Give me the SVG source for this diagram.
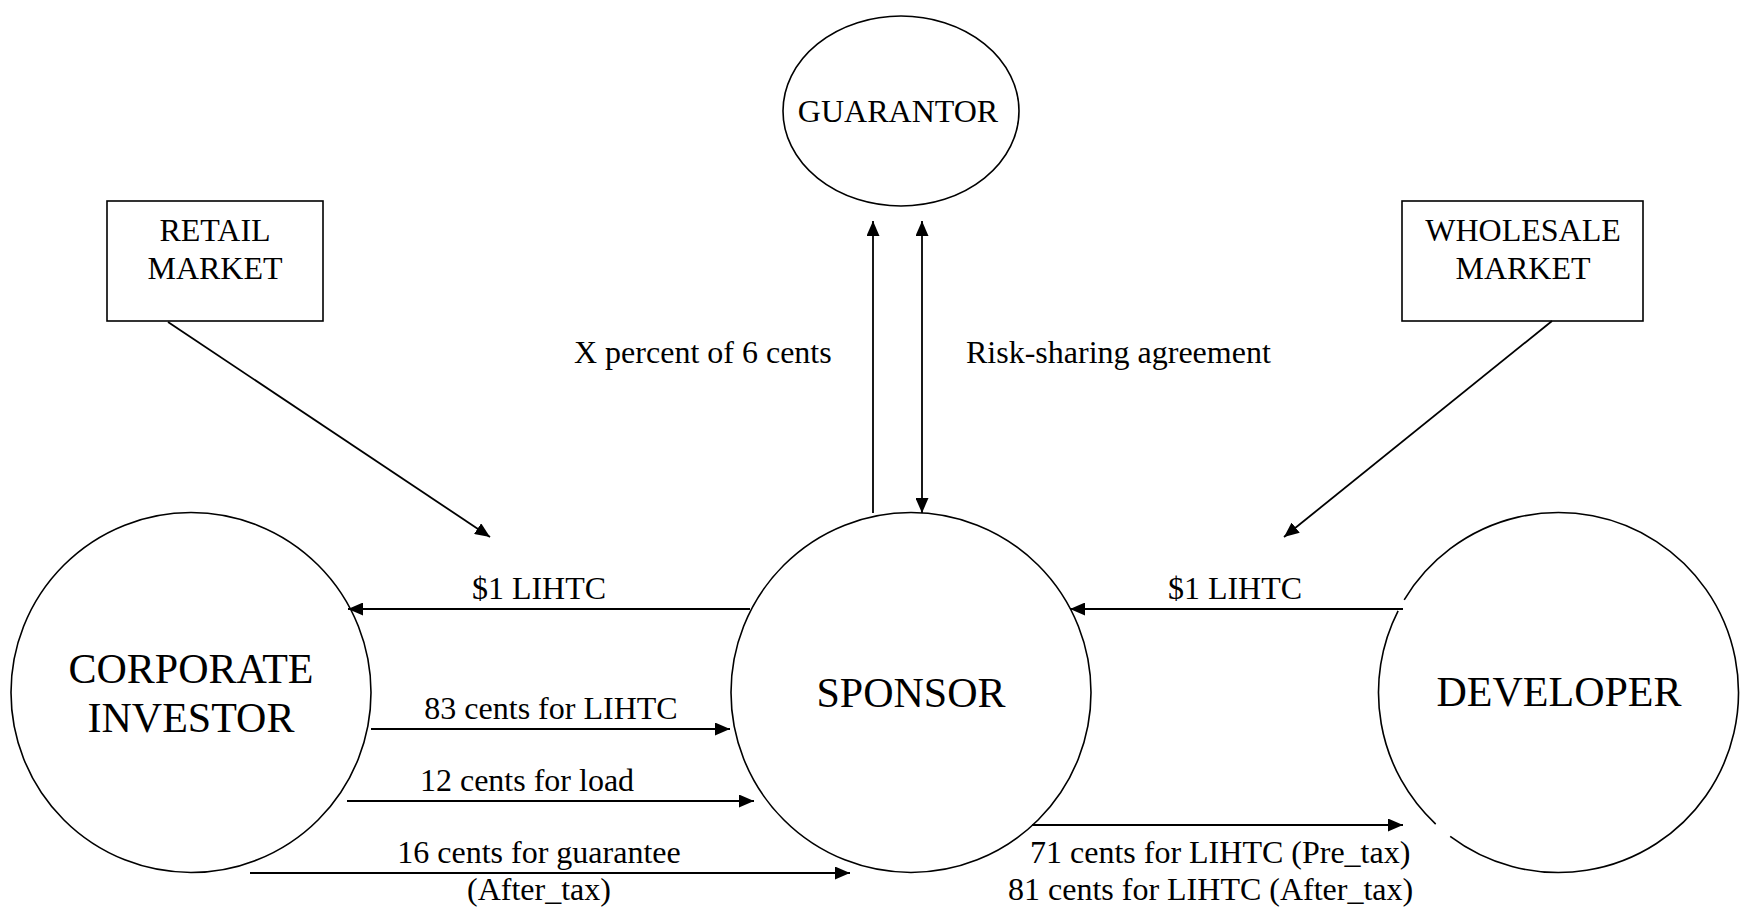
<svg xmlns="http://www.w3.org/2000/svg" width="1741" height="912" viewBox="0 0 1741 912">
  <style>
    text { font-family: "Liberation Serif", "Times New Roman", serif; fill: #000; }
    .lbl { font-size: 32px; }
    .big { font-size: 42px; }
    .mid { text-anchor: middle; }
    .shape { fill: #fff; stroke: #000; stroke-width: 1.6; }
    .conn { fill: none; stroke: #000; stroke-width: 1.8; }
  </style>
  <defs>
    <marker id="arrow" markerUnits="userSpaceOnUse" markerWidth="16" markerHeight="13" refX="15" refY="6.5" orient="auto-start-reverse" viewBox="0 0 16 13">
      <path d="M0,0 L15,6.5 L0,13 z" fill="#000"/>
    </marker>
  </defs>
  <rect width="1741" height="912" fill="#fff"/>

  <g id="guarantor">
    <ellipse class="shape" cx="901" cy="111" rx="118" ry="95"/>
    <text class="lbl mid" x="898" y="122">GUARANTOR</text>
  </g>

  <g id="retail-market">
    <rect class="shape" x="107" y="201" width="216" height="120"/>
    <text class="lbl mid" x="215" y="241">RETAIL</text>
    <text class="lbl mid" x="215" y="279">MARKET</text>
  </g>

  <g id="wholesale-market">
    <rect class="shape" x="1402" y="201" width="241" height="120"/>
    <text class="lbl mid" x="1523" y="241">WHOLESALE</text>
    <text class="lbl mid" x="1523" y="279">MARKET</text>
  </g>

  <g id="corporate-investor">
    <circle class="shape" cx="191" cy="692.5" r="180"/>
    <text class="big mid" x="191" y="683">CORPORATE</text>
    <text class="big mid" x="191" y="732">INVESTOR</text>
  </g>

  <g id="sponsor">
    <circle class="shape" cx="911" cy="692.5" r="180"/>
    <text class="big mid" x="911" y="707">SPONSOR</text>
  </g>

  <g id="developer">
    <path class="shape" d="M 1435.7 824.1 A 180 180 0 0 1 1398.1 610.8 M 1404.2 599.8 A 180 180 0 1 1 1450.2 836.3" fill="none"/>
    <text class="big mid" x="1559" y="706">DEVELOPER</text>
  </g>

  <g id="connectors">
    <line class="conn" x1="873" y1="513" x2="873" y2="221" marker-end="url(#arrow)"/>
    <line class="conn" x1="922" y1="221" x2="922" y2="513" marker-start="url(#arrow)" marker-end="url(#arrow)"/>
    <line class="conn" x1="168" y1="322" x2="490" y2="537" marker-end="url(#arrow)"/>
    <line class="conn" x1="1552" y1="321" x2="1284" y2="537" marker-end="url(#arrow)"/>
    <line class="conn" x1="750" y1="609" x2="348" y2="609" marker-end="url(#arrow)"/>
    <line class="conn" x1="371" y1="729" x2="730" y2="729" marker-end="url(#arrow)"/>
    <line class="conn" x1="347" y1="801" x2="754" y2="801" marker-end="url(#arrow)"/>
    <line class="conn" x1="250" y1="873" x2="850" y2="873" marker-end="url(#arrow)"/>
    <line class="conn" x1="1403" y1="609" x2="1070" y2="609" marker-end="url(#arrow)"/>
    <line class="conn" x1="1032" y1="825" x2="1403" y2="825" marker-end="url(#arrow)"/>
  </g>

  <g id="labels">
    <text class="lbl" x="574" y="363">X percent of 6 cents</text>
    <text class="lbl" x="966" y="363">Risk-sharing agreement</text>
    <text class="lbl mid" x="539" y="599">$1 LIHTC</text>
    <text class="lbl mid" x="1235" y="599">$1 LIHTC</text>
    <text class="lbl mid" x="551" y="719">83 cents for LIHTC</text>
    <text class="lbl mid" x="527" y="791">12 cents for load</text>
    <text class="lbl mid" x="539" y="863">16 cents for guarantee</text>
    <text class="lbl mid" x="539" y="900">(After_tax)</text>
    <text class="lbl" x="1030" y="863">71 cents for LIHTC (Pre_tax)</text>
    <text class="lbl" x="1008" y="900">81 cents for LIHTC (After_tax)</text>
  </g>
</svg>
